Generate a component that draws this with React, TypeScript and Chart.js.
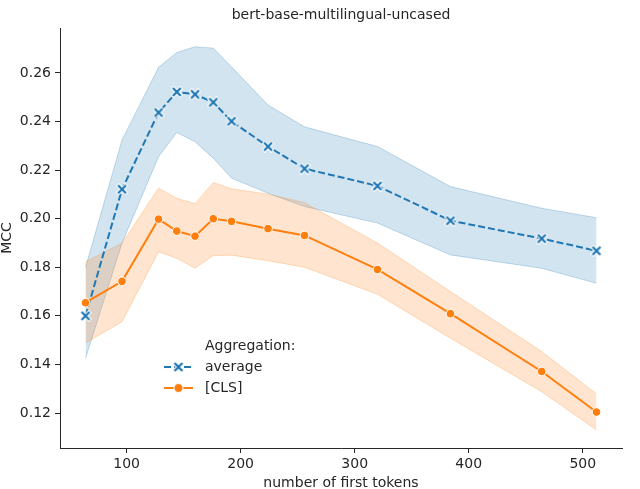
import React, { useEffect, useRef } from "react";
import { Chart, registerables } from "chart.js";

Chart.register(...registerables);

const tokens = [64, 96, 128, 144, 160, 176, 192, 224, 256, 320, 384, 464, 512];

const avgMean = [0.1600, 0.2121, 0.2437, 0.2522, 0.2512, 0.2479, 0.2401, 0.2297, 0.2206, 0.2135, 0.1992, 0.1918, 0.1868];
const avgLow = [0.1425, 0.1900, 0.2255, 0.2355, 0.2317, 0.2249, 0.2167, 0.2105, 0.2050, 0.1982, 0.1851, 0.1796, 0.1734];
const avgHigh = [0.1800, 0.2324, 0.2623, 0.2684, 0.2708, 0.2702, 0.2625, 0.2468, 0.2378, 0.2297, 0.2132, 0.2043, 0.2004];

const clsMean = [0.1654, 0.1742, 0.1998, 0.1949, 0.1928, 0.2000, 0.1989, 0.1959, 0.1931, 0.1791, 0.1609, 0.1371, 0.1204];
const clsLow = [0.1488, 0.1576, 0.1864, 0.1837, 0.1796, 0.1848, 0.1850, 0.1827, 0.1800, 0.1689, 0.1508, 0.1288, 0.1130];
const clsHigh = [0.1823, 0.1899, 0.2125, 0.2084, 0.2062, 0.2149, 0.2123, 0.2101, 0.2066, 0.1900, 0.1700, 0.1453, 0.1279];

const xTicks = [100, 200, 300, 400, 500];
const yTicks = [0.12, 0.14, 0.16, 0.18, 0.2, 0.22, 0.24, 0.26];

const titleText = "bert-base-multilingual-uncased";
const xLabel = "number of first tokens";
const yLabel = "MCC";
const legendTitle = "Aggregation:";
const seriesNames = ["average", "[CLS]"];

const BLUE = "#1f77b4";
const ORANGE = "#ff7f0e";
const TEXT = "#262626";
const FONT = "'DejaVu Sans', sans-serif";

function makeXMarker(scale: number): HTMLCanvasElement {
  const c = document.createElement("canvas");
  const s = Math.round(12 * scale);
  c.width = s;
  c.height = s;
  const g = c.getContext("2d")!;
  const h = s / 2;
  const a = 3.2 * scale;
  const draw = (w: number, color: string) => {
    g.strokeStyle = color;
    g.lineWidth = w;
    g.lineCap = "square";
    g.beginPath();
    g.moveTo(h - a, h - a);
    g.lineTo(h + a, h + a);
    g.moveTo(h + a, h - a);
    g.lineTo(h - a, h + a);
    g.stroke();
  };
  draw(4.2 * scale, "#ffffff");
  draw(2.2 * scale, BLUE);
  return c;
}

export default function App() {
  const ref = useRef<HTMLCanvasElement>(null);

  useEffect(() => {
    document.body.style.margin = "0";
    const xMarker = makeXMarker(1);
    const pts = (ys: number[]) => tokens.map((x, i) => ({ x, y: ys[i] }));

    const textPlugin = {
      id: "texts",
      afterDraw(chart: any) {
        const ctx = chart.ctx as CanvasRenderingContext2D;
        const ca = chart.chartArea;
        ctx.save();
        ctx.fillStyle = TEXT;
        ctx.font = `14px ${FONT}`;
        ctx.textAlign = "center";
        ctx.textBaseline = "middle";
        ctx.fillText(titleText, (ca.left + ca.right) / 2, 15);
        ctx.fillText(xLabel, (ca.left + ca.right) / 2, 483);
        ctx.save();
        ctx.translate(7, (ca.top + ca.bottom) / 2);
        ctx.rotate(-Math.PI / 2);
        ctx.fillText(yLabel, 0, 0);
        ctx.restore();

        // legend
        const lx0 = 164;
        const lx1 = 193;
        const mx = 178.5;
        const tx = 205;
        ctx.textAlign = "left";
        ctx.fillText(legendTitle, tx, 346);
        // average
        const y1 = 367;
        ctx.strokeStyle = BLUE;
        ctx.lineWidth = 2;
        ctx.setLineDash([7, 3]);
        ctx.beginPath();
        ctx.moveTo(lx0, y1);
        ctx.lineTo(lx1, y1);
        ctx.stroke();
        ctx.setLineDash([]);
        ctx.drawImage(xMarker, mx - xMarker.width / 2, y1 - xMarker.height / 2);
        ctx.fillText(seriesNames[0], tx, y1);
        // CLS
        const y2 = 388;
        ctx.strokeStyle = ORANGE;
        ctx.beginPath();
        ctx.moveTo(lx0, y2);
        ctx.lineTo(lx1, y2);
        ctx.stroke();
        ctx.fillStyle = ORANGE;
        ctx.strokeStyle = "#ffffff";
        ctx.lineWidth = 1;
        ctx.beginPath();
        ctx.arc(mx, y2, 4.5, 0, Math.PI * 2);
        ctx.fill();
        ctx.stroke();
        ctx.fillStyle = TEXT;
        ctx.fillText(seriesNames[1], tx, y2);
        ctx.restore();
      },
    };

    const chart = new Chart(ref.current!, {
      type: "line",
      data: {
        datasets: [
          {
            label: seriesNames[1],
            data: pts(clsMean),
            borderColor: ORANGE,
            borderWidth: 2,
            pointStyle: "circle",
            pointRadius: 4.3,
            pointBackgroundColor: ORANGE,
            pointBorderColor: "#ffffff",
            pointBorderWidth: 1,
            fill: false,
            order: 0,
          },
          {
            label: seriesNames[0],
            data: pts(avgMean),
            borderColor: BLUE,
            borderWidth: 2,
            borderDash: [7, 3],
            pointStyle: xMarker,
            pointRadius: 5,
            fill: false,
            order: 1,
          },
          {
            label: "cls-high",
            data: pts(clsHigh),
            borderColor: "rgba(255,127,14,0.25)",
            borderWidth: 1,
            pointRadius: 0,
            backgroundColor: "rgba(255,127,14,0.2)",
            fill: "+1",
            order: 2,
          },
          {
            label: "cls-low",
            data: pts(clsLow),
            borderColor: "rgba(255,127,14,0.25)",
            borderWidth: 1,
            pointRadius: 0,
            fill: false,
            order: 2,
          },
          {
            label: "avg-high",
            data: pts(avgHigh),
            borderColor: "rgba(31,119,180,0.25)",
            borderWidth: 1,
            pointRadius: 0,
            backgroundColor: "rgba(31,119,180,0.2)",
            fill: "+1",
            order: 3,
          },
          {
            label: "avg-low",
            data: pts(avgLow),
            borderColor: "rgba(31,119,180,0.25)",
            borderWidth: 1,
            pointRadius: 0,
            fill: false,
            order: 3,
          },
        ] as any,
      },
      options: {
        responsive: false,
        animation: false,
        devicePixelRatio: 1,
        events: [],
        layout: { padding: { top: 28, right: 18, left: 0, bottom: 0 } },
        plugins: {
          legend: { display: false },
          tooltip: { enabled: false },
          title: { display: false },
        },
        scales: {
          x: {
            type: "linear",
            min: 41.6,
            max: 534.4,
            afterBuildTicks: (s: any) => {
              s.ticks = xTicks.map((v) => ({ value: v }));
            },
            afterFit: (s: any) => {
              s.height = 41;
            },
            grid: {
              display: true,
              drawOnChartArea: false,
              drawTicks: true,
              tickLength: 5,
              color: TEXT,
              lineWidth: 1,
            },
            border: { display: true, color: TEXT, width: 1 },
            ticks: {
              color: TEXT,
              font: { family: FONT, size: 14 },
              padding: 3,
              maxRotation: 0,
              autoSkip: false,
              callback: (v: any) => String(v),
            },
          },
          y: {
            type: "linear",
            min: 0.1056,
            max: 0.2785,
            afterBuildTicks: (s: any) => {
              s.ticks = yTicks.map((v) => ({ value: v }));
            },
            afterFit: (s: any) => {
              s.width = 60;
            },
            grid: {
              display: true,
              drawOnChartArea: false,
              drawTicks: true,
              tickLength: 5,
              color: TEXT,
              lineWidth: 1,
            },
            border: { display: true, color: TEXT, width: 1 },
            ticks: {
              color: TEXT,
              font: { family: FONT, size: 14 },
              padding: 4,
              autoSkip: false,
              callback: (v: any) => Number(v).toFixed(2),
            },
          },
        },
      } as any,
      plugins: [textPlugin],
    });

    return () => chart.destroy();
  }, []);

  return <canvas ref={ref} width={640} height={489} style={{ display: "block" }} />;
}
